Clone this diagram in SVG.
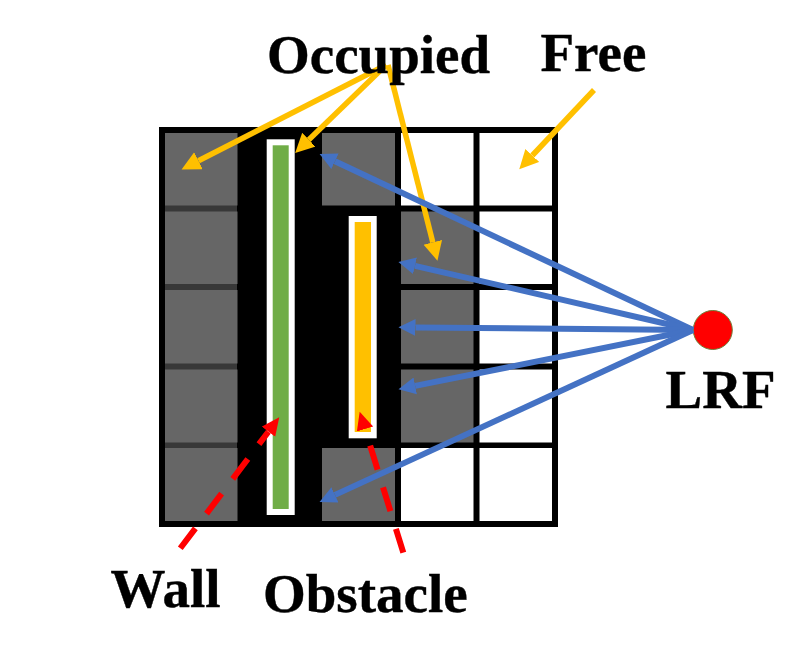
<svg xmlns="http://www.w3.org/2000/svg" width="810" height="659" viewBox="0 0 810 659">
<style>
.g{fill:#666}.w{fill:#fff}
.t{font-family:"Liberation Serif","Times New Roman",serif;font-weight:bold;font-size:55px;fill:#000;stroke:#000;stroke-width:.4}
.o{stroke:#ffc000;stroke-width:5.500;fill:none;marker-end:url(#ho)}
.b{stroke:#4472c4;stroke-width:6;fill:none;marker-end:url(#hb)}
.r{stroke:#f00;stroke-width:6;fill:none;stroke-dasharray:25 18.500;marker-end:url(#hr)}
</style>
<defs>
<marker id="ho" markerUnits="userSpaceOnUse" markerWidth="22" markerHeight="20" refX="0" refY="9.500" orient="auto"><path d="M0 0L19 9.500L0 19Z" fill="#ffc000"/></marker>
<marker id="hb" markerUnits="userSpaceOnUse" markerWidth="20" markerHeight="20" refX="0" refY="9" orient="auto"><path d="M0 0.500L17 9L0 17.500Z" fill="#4472c4"/></marker>
<marker id="hr" markerUnits="userSpaceOnUse" markerWidth="20" markerHeight="20" refX="0" refY="9" orient="auto"><path d="M0 0.500L18 9L0 17.500Z" fill="#f00"/></marker>
</defs>
<rect width="810" height="659" fill="#fff"/>
<g id="grid">
<rect x="159" y="127" width="399" height="400" fill="#000"/>
<rect x="165" y="205" width="72" height="165" fill="#383838"/>
<rect x="165" y="369" width="72" height="79" fill="#383838"/>
<rect class="g" x="165" y="133" width="72.500" height="72.500"/>
<rect class="g" x="165" y="211.500" width="72.500" height="72.500"/>
<rect class="g" x="165" y="290" width="72.500" height="73.500"/>
<rect class="g" x="165" y="369.500" width="72.500" height="73"/>
<rect class="g" x="165" y="448" width="72.500" height="73"/>
<rect class="g" x="322" y="133" width="73" height="72.500"/>
<rect class="g" x="322" y="448" width="73" height="73"/>
<rect class="w" x="401" y="133" width="72.500" height="72.500"/>
<rect class="g" x="401" y="211.500" width="72.500" height="72.500"/>
<rect class="g" x="401" y="290" width="72.500" height="73.500"/>
<rect class="g" x="401" y="369.500" width="72.500" height="73"/>
<rect class="w" x="401" y="448" width="72.500" height="73"/>
<rect class="w" x="479.500" y="133" width="72.500" height="72.500"/>
<rect class="w" x="479.500" y="211.500" width="72.500" height="72.500"/>
<rect class="w" x="479.500" y="290" width="72.500" height="73.500"/>
<rect class="w" x="479.500" y="369.500" width="72.500" height="73"/>
<rect class="w" x="479.500" y="448" width="72.500" height="73"/>
</g>
<g id="wall">
<rect x="266.700" y="139.300" width="28" height="375.700" fill="#fff"/>
<rect x="272.700" y="145.300" width="16" height="363.700" fill="#70ad47"/>
</g>
<g id="obstacle">
<rect x="348.700" y="216" width="28" height="222.300" fill="#fff"/>
<rect x="354.700" y="222" width="16.300" height="210" fill="#ffc000"/>
</g>
<g id="lrf">
<circle cx="712.800" cy="330" r="19.500" fill="#f00" stroke="#70803a" stroke-width="1"/>
</g>
<g id="connectors">
<line class="o" x1="386" y1="65" x2="198.500" y2="160.800"/>
<line class="o" x1="386" y1="65" x2="308.800" y2="139.700"/>
<line class="o" x1="388" y1="65" x2="432.800" y2="242.300"/>
<line class="o" x1="594" y1="90" x2="532.300" y2="155.500"/>
<line class="b" x1="693" y1="330" x2="335" y2="161.300"/>
<line class="b" x1="693" y1="330" x2="415" y2="265.800"/>
<line class="b" x1="693" y1="330" x2="415.500" y2="327.500"/>
<line class="b" x1="693" y1="330" x2="415.200" y2="385.900"/>
<line class="b" x1="693" y1="330" x2="335" y2="494.900"/>
<line class="r" x1="180.300" y1="548.300" x2="268.400" y2="431.700"/>
<line class="r" x1="403.300" y1="552.700" x2="365" y2="429"/>
</g>
<g id="labels">
<text class="t" x="267" y="72.700">Occupied</text>
<text class="t" x="540.500" y="70.700">Free</text>
<text class="t" x="665.500" y="408.300">LRF</text>
<text class="t" x="110.500" y="606.500">Wall</text>
<text class="t" x="263" y="612.300">Obstacle</text>
</g>
</svg>
